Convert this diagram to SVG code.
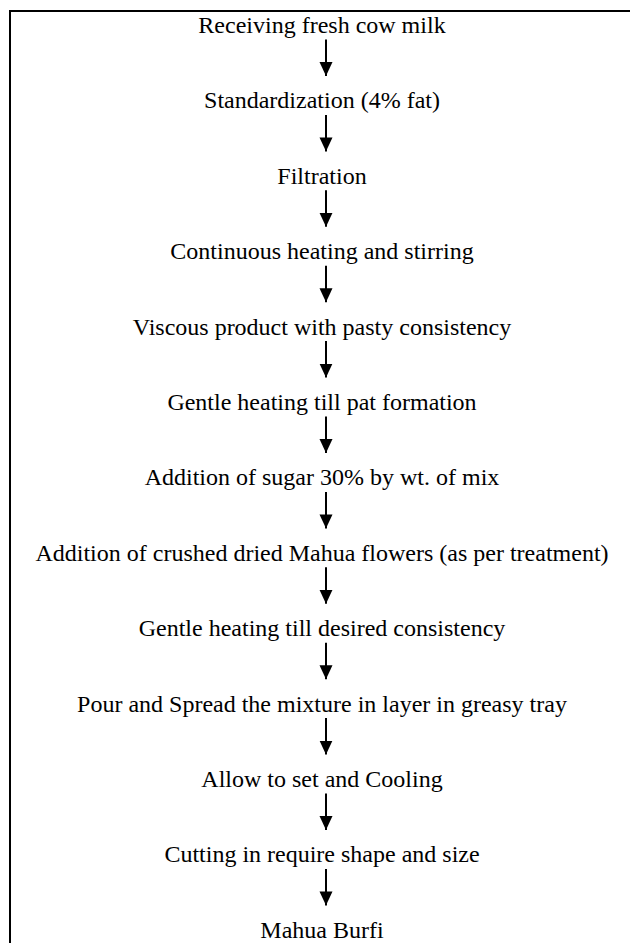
<svg xmlns="http://www.w3.org/2000/svg" width="630" height="943" viewBox="0 0 630 943">
<defs>
<style>
.t{font-family:"Liberation Serif","Times New Roman",serif;font-size:24px;fill:#000;text-anchor:middle}
.c line{stroke:#000;stroke-width:2}
</style>
<marker id="ah" markerWidth="13" markerHeight="14" refX="14" refY="6.5" orient="auto" markerUnits="userSpaceOnUse">
<path d="M0,0 L14,6.5 L0,13 Z" fill="#000"/>
</marker>
</defs>
<rect width="630" height="943" fill="#fff"/>
<rect x="10" y="11" width="640" height="960" fill="none" stroke="#000" stroke-width="2"/>
<g id="n1"><text class="t" x="322" y="33">Receiving fresh cow milk</text></g>
<g id="n2"><text class="t" x="322" y="108.4">Standardization (4% fat)</text></g>
<g id="n3"><text class="t" x="322" y="183.8">Filtration</text></g>
<g id="n4"><text class="t" x="322" y="259.2">Continuous heating and stirring</text></g>
<g id="n5"><text class="t" x="322" y="334.6">Viscous product with pasty consistency</text></g>
<g id="n6"><text class="t" x="322" y="410">Gentle heating till pat formation</text></g>
<g id="n7"><text class="t" x="322" y="485.4">Addition of sugar 30% by wt. of mix</text></g>
<g id="n8"><text class="t" x="322" y="560.8">Addition of crushed dried Mahua flowers (as per treatment)</text></g>
<g id="n9"><text class="t" x="322" y="636.2">Gentle heating till desired consistency</text></g>
<g id="n10"><text class="t" x="322" y="711.6">Pour and Spread the mixture in layer in greasy tray</text></g>
<g id="n11"><text class="t" x="322" y="787">Allow to set and Cooling</text></g>
<g id="n12"><text class="t" x="322" y="862.4">Cutting in require shape and size</text></g>
<g id="n13"><text class="t" x="322" y="937.8">Mahua Burfi</text></g>
<g id="connectors" class="c">
<line x1="326" y1="39.5" x2="326" y2="76" marker-end="url(#ah)"/>
<line x1="326" y1="114.9" x2="326" y2="151.4" marker-end="url(#ah)"/>
<line x1="326" y1="190.3" x2="326" y2="226.8" marker-end="url(#ah)"/>
<line x1="326" y1="265.7" x2="326" y2="302.2" marker-end="url(#ah)"/>
<line x1="326" y1="341.1" x2="326" y2="377.6" marker-end="url(#ah)"/>
<line x1="326" y1="416.5" x2="326" y2="453" marker-end="url(#ah)"/>
<line x1="326" y1="491.9" x2="326" y2="528.4" marker-end="url(#ah)"/>
<line x1="326" y1="567.3" x2="326" y2="603.8" marker-end="url(#ah)"/>
<line x1="326" y1="642.7" x2="326" y2="679.2" marker-end="url(#ah)"/>
<line x1="326" y1="718.1" x2="326" y2="754.6" marker-end="url(#ah)"/>
<line x1="326" y1="793.5" x2="326" y2="830" marker-end="url(#ah)"/>
<line x1="326" y1="868.9" x2="326" y2="905.4" marker-end="url(#ah)"/>
</g>
</svg>
